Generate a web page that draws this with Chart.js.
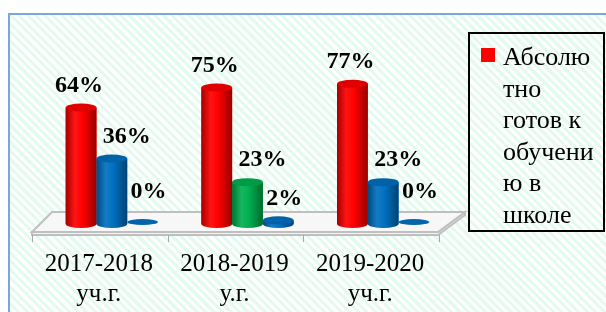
<!DOCTYPE html>
<html>
<head>
<meta charset="utf-8">
<script src="https://cdn.jsdelivr.net/npm/chart.js@4/dist/chart.umd.min.js"></script>
<style>
  html, body { margin: 0; padding: 0; background: #fff; }
  #wrap { position: relative; width: 606px; height: 312px; overflow: hidden; }
  #frame {
    position: absolute; left: 8px; top: 13px; width: 620px; height: 320px;
    border-left: 2px solid #7aa6dc; border-top: 2px solid #7aa6dc;
    background: repeating-linear-gradient(45deg, #ffffff 0 3px, #e2fbee 3px 6px);
  }
  canvas { position: absolute; left: 0; top: 0; }
</style>
</head>
<body>
<div id="wrap">
  <div id="frame"></div>
  <canvas id="myChart" width="606" height="312"></canvas>
</div>
<script>
const categories = [["2017-2018", "уч.г."], ["2018-2019", "у.г."], ["2019-2020", "уч.г."]];
const seriesName = "Абсолютно готов к обучению в школе";
const legendLines = ["Абсолю", "тно", "готов к", "обучени", "ю в", "школе"];
const ready = [64, 75, 77];
const partly = [36, 23, 23];
const notReady = [0, 2, 0];

const RED = "#ff0000";
const BLUE = "#0070c0";
const GREEN = "#00b050";
const SERIF = "Liberation Serif";

// shade a hex colour: f < 0 darker, f > 0 lighter
const shade = (hex, f) => {
	let n = parseInt(hex.slice(1), 16);
	let c = [(n >> 16) & 255, (n >> 8) & 255, n & 255].map((v) =>
		Math.round(f < 0 ? v * (1 + f) : v + (255 - v) * f)
	);
	return "rgb(" + c.join(",") + ")";
};

const floorPlugin = {
	id: "floor",
	beforeDatasetsDraw(chart) {
		const ctx = chart.ctx;
		const x = chart.scales.x;
		const base = chart.scales.y.getPixelForValue(0);
		const l = x.left, r = x.right;
		ctx.save();
		ctx.fillStyle = "#f3f3f3";
		ctx.strokeStyle = "#bfbfbf";
		ctx.lineWidth = 2;
		// front face
		ctx.beginPath();
		ctx.moveTo(l - 12, base + 8);
		ctx.lineTo(r - 13, base + 8);
		ctx.lineTo(r + 14, base - 12);
		ctx.lineTo(r + 14, base - 9);
		ctx.lineTo(r - 13, base + 11);
		ctx.lineTo(l - 12, base + 11);
		ctx.closePath();
		ctx.fill();
		ctx.stroke();
		// top
		ctx.beginPath();
		ctx.moveTo(l - 12, base + 8);
		ctx.lineTo(l + 8, base - 12);
		ctx.lineTo(r + 14, base - 12);
		ctx.lineTo(r - 13, base + 8);
		ctx.closePath();
		ctx.fillStyle = "#f7f7f7";
		ctx.fill();
		ctx.stroke();
		// category tick marks
		const step = (r - l) / categories.length;
		ctx.lineWidth = 1;
		ctx.strokeStyle = "#a6a6a6";
		for (let i = 0; i <= categories.length; i++) {
			let tx = Math.round(l - 12 + i * step) + 0.5;
			ctx.beginPath();
			ctx.moveTo(tx, base + 11);
			ctx.lineTo(tx, base + 18);
			ctx.stroke();
		}
		ctx.restore();
	},
};

const cylinderPlugin = {
	id: "cylinders",
	afterDatasetsDraw(chart) {
		const ctx = chart.ctx;
		ctx.save();
		chart.data.datasets.forEach((ds, di) => {
			chart.getDatasetMeta(di).data.forEach((el, i) => {
				const col = Array.isArray(ds.backgroundColor) ? ds.backgroundColor[i] : ds.backgroundColor;
				const rx = el.width / 2, ry = 4;
				const x0 = el.x - rx, x1 = el.x + rx;
				if (ds.data[i] === 0) {
					ctx.fillStyle = shade(col, -0.1);
					ctx.beginPath();
					ctx.ellipse(el.x, el.base - 2, rx, 3, 0, 0, Math.PI * 2);
					ctx.fill();
					return;
				}
				const g = ctx.createLinearGradient(x0, 0, x1, 0);
				g.addColorStop(0, shade(col, -0.35));
				g.addColorStop(0.3, shade(col, 0.08));
				g.addColorStop(0.55, col);
				g.addColorStop(1, shade(col, -0.4));
				ctx.fillStyle = g;
				ctx.beginPath();
				ctx.moveTo(x0, el.y);
				ctx.lineTo(x0, el.base);
				ctx.ellipse(el.x, el.base, rx, ry, 0, Math.PI, 0, true);
				ctx.lineTo(x1, el.y);
				ctx.closePath();
				ctx.fill();
				ctx.fillStyle = shade(col, -0.12);
				ctx.beginPath();
				ctx.ellipse(el.x, el.y, rx, ry, 0, 0, Math.PI * 2);
				ctx.fill();
			});
		});
		ctx.restore();
	},
};

const labelPlugin = {
	id: "valueLabels",
	afterDraw(chart) {
		const ctx = chart.ctx;
		const dx = [-2, 15, 6];
		ctx.save();
		ctx.font = Chart.helpers.toFont({ family: SERIF, size: 24, weight: "bold" }).string;
		ctx.fillStyle = "#000";
		ctx.textAlign = "center";
		ctx.textBaseline = "middle";
		chart.data.datasets.forEach((ds, di) => {
			chart.getDatasetMeta(di).data.forEach((el, i) => {
				const v = ds.data[i];
				const y = v === 0 ? el.base - 32 : el.y - 22;
				ctx.fillText(v + "%", el.x + dx[di], y);
			});
		});

		// legend box
		ctx.lineWidth = 2;
		ctx.strokeStyle = "#000";
		ctx.strokeRect(469, 33, 135, 198);
		ctx.fillStyle = RED;
		ctx.fillRect(481, 48, 14, 14);
		ctx.fillStyle = "#000";
		ctx.textAlign = "left";
		ctx.textBaseline = "alphabetic";
		ctx.font = Chart.helpers.toFont({ family: SERIF, size: 26 }).string;
		legendLines.forEach((t, k) => {
			ctx.fillText(t, 503, 65 + k * 31.6);
		});
		ctx.restore();
	},
};

new Chart(document.getElementById("myChart"), {
	type: "bar",
	data: {
		labels: categories,
		datasets: [
			{ label: seriesName, data: ready, backgroundColor: RED },
			{ label: "", data: partly, backgroundColor: [BLUE, GREEN, BLUE] },
			{ label: "", data: notReady, backgroundColor: BLUE },
		],
	},
	options: {
		responsive: false,
		animation: false,
		events: [],
		layout: { padding: { left: 44, right: 155, top: 42, bottom: 0 } },
		datasets: {
			bar: { categoryPercentage: 0.68, barPercentage: 1, borderWidth: 0 },
		},
		plugins: {
			legend: { display: false },
			tooltip: { enabled: false },
		},
		scales: {
			x: {
				grid: { display: false, drawTicks: false },
				border: { display: false },
				afterFit: (scale) => {
					scale.height = 88;
				},
				ticks: {
					color: "#000",
					padding: 25,
					labelOffset: -13,
					maxRotation: 0,
					font: { family: SERIF, size: 25, lineHeight: 1.2 },
				},
			},
			y: {
				display: false,
				min: 0,
				max: 100,
			},
		},
	},
	plugins: [floorPlugin, cylinderPlugin, labelPlugin],
});
</script>
</body>
</html>
